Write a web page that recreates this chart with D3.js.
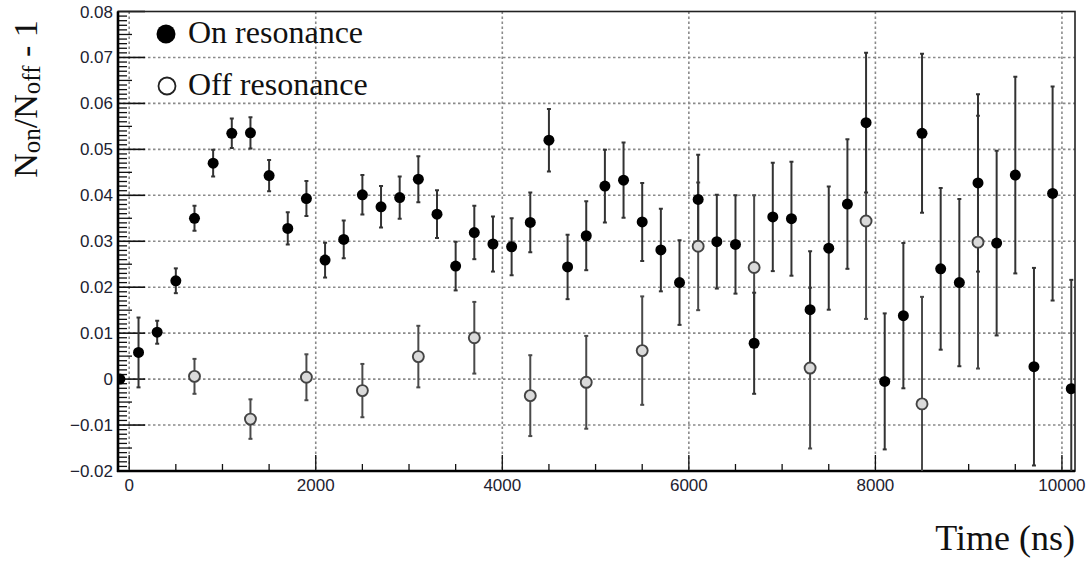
<!DOCTYPE html>
<html>
<head>
<meta charset="utf-8">
<script src="https://cdn.jsdelivr.net/npm/d3@7"></script>
<style>
  html, body { margin: 0; padding: 0; background: #fff; }
  svg { display: block; }
</style>
</head>
<body>
<svg id="chart" width="1091" height="563"></svg>
<script>
// ---------- data ----------
const onTime = [-100, 100, 300, 500, 700, 900, 1100, 1300, 1500, 1700, 1900, 2100, 2300, 2500, 2700, 2900,
  3100, 3300, 3500, 3700, 3900, 4100, 4300, 4500, 4700, 4900, 5100, 5300, 5500, 5700, 5900, 6100,
  6300, 6500, 6700, 6900, 7100, 7300, 7500, 7700, 7900, 8100, 8300, 8500, 8700, 8900, 9100, 9300,
  9500, 9700, 9900, 10100];
const onValue = [0, 0.0058, 0.0102, 0.0214, 0.0350, 0.0470, 0.0535, 0.0536, 0.0443, 0.0328, 0.0393, 0.0259, 0.0304, 0.0401, 0.0375, 0.0395,
  0.0435, 0.0359, 0.0246, 0.0319, 0.0294, 0.0288, 0.0341, 0.0520, 0.0244, 0.0312, 0.0420, 0.0433, 0.0342, 0.0281, 0.0210, 0.0391,
  0.0299, 0.0293, 0.0078, 0.0353, 0.0349, 0.0151, 0.0285, 0.0381, 0.0558, -0.0005, 0.0138, 0.0535, 0.0240, 0.0210, 0.0427, 0.0296,
  0.0444, 0.0027, 0.0404, -0.0021];
const onError = [0, 0.0076, 0.0025, 0.0027, 0.0027, 0.0029, 0.0032, 0.0034, 0.0034, 0.0035, 0.0038, 0.0038, 0.0041, 0.0043, 0.0045, 0.0046,
  0.0050, 0.0052, 0.0053, 0.0058, 0.0060, 0.0062, 0.0065, 0.0068, 0.0070, 0.0075, 0.0079, 0.0082, 0.0085, 0.0090, 0.0092, 0.0097,
  0.0102, 0.0107, 0.0110, 0.0118, 0.0124, 0.0127, 0.0134, 0.0141, 0.0152, 0.0148, 0.0158, 0.0173, 0.0176, 0.0182, 0.0193, 0.0201,
  0.0214, 0.0215, 0.0233, 0.0237];

const offTime = [700, 1300, 1900, 2500, 3100, 3700, 4300, 4900, 5500, 6100, 6700, 7300, 7900, 8500, 9100];
const offValue = [0.0006, -0.0087, 0.0004, -0.0025, 0.0049, 0.0090, -0.0036, -0.0007, 0.0062, 0.0289, 0.0243, 0.0024, 0.0344, -0.0054, 0.0298];
const offError = [0.0038, 0.0043, 0.0050, 0.0058, 0.0067, 0.0078, 0.0088, 0.0101, 0.0118, 0.0139, 0.0157, 0.0175, 0.0213, 0.0233, 0.0275];

const xTicks = [0, 2000, 4000, 6000, 8000, 10000];
const xTickLabels = ["0", "2000", "4000", "6000", "8000", "10000"];
const yTicks = [-0.02, -0.01, 0, 0.01, 0.02, 0.03, 0.04, 0.05, 0.06, 0.07, 0.08];
const yTickLabels = ["\u22120.02", "\u22120.01", "0", "0.01", "0.02", "0.03", "0.04", "0.05", "0.06", "0.07", "0.08"];
const legendLabels = ["On resonance", "Off resonance"];

// ---------- layout ----------
const L = 118, R = 1075, T = 11.5, B = 471;
const svg = d3.select("#chart");
const x = d3.scaleLinear().domain([-120, 10140]).range([L, R]);
const y = d3.scaleLinear().domain([-0.02, 0.08]).range([B, T]);

svg.append("defs").append("clipPath").attr("id", "plotclip")
  .append("rect").attr("x", L).attr("y", T).attr("width", R - L).attr("height", B - T);

// grid
const grid = svg.append("g").attr("stroke", "#8a8a8a").attr("stroke-width", 1.6)
  .attr("stroke-dasharray", "2.5,2.5").attr("fill", "none");
xTicks.forEach(t => {
  grid.append("line").attr("x1", x(t)).attr("x2", x(t)).attr("y1", T).attr("y2", B);
});
yTicks.forEach(t => {
  if (t > -0.02 && t < 0.08)
    grid.append("line").attr("x1", L).attr("x2", R).attr("y1", y(t)).attr("y2", y(t));
});

// y ticks (major, medium, minor)
const tickG = svg.append("g").attr("stroke", "#111").attr("stroke-width", 1.3);
const yMinor = d3.range(0, 101).map(i => -0.02 + i * 0.001);
yMinor.forEach((v, i) => {
  const len = (i % 10 === 0) ? 27 : (i % 5 === 0 ? 14 : 9);
  tickG.append("line").attr("x1", L).attr("x2", L + len).attr("y1", y(v)).attr("y2", y(v))
    .attr("stroke-width", i % 10 === 0 ? 1.6 : 1.3);
});
// x ticks
const xMinor = d3.range(0, 21).map(i => i * 500);
xMinor.forEach((v, i) => {
  const len = (i % 4 === 0) ? 16 : 7;
  tickG.append("line").attr("x1", x(v)).attr("x2", x(v)).attr("y1", B).attr("y2", B - len);
});

// frame
svg.append("rect").attr("x", L).attr("y", T).attr("width", R - L).attr("height", B - T)
  .attr("fill", "none").attr("stroke", "#222").attr("stroke-width", 1.6);
svg.append("line").attr("x1", L).attr("x2", L).attr("y1", T).attr("y2", B + 1)
  .attr("stroke", "#000").attr("stroke-width", 2.6);
svg.append("line").attr("x1", L - 1).attr("x2", R).attr("y1", B).attr("y2", B)
  .attr("stroke", "#000").attr("stroke-width", 2.6);

// tick labels
const lab = svg.append("g").attr("font-family", "'Liberation Sans', Arial, sans-serif")
  .attr("font-size", 17).attr("fill", "#222230");
yTicks.forEach((t, i) => {
  lab.append("text").attr("x", 113).attr("y", y(t) + 6).attr("text-anchor", "end").text(yTickLabels[i]);
});
xTicks.forEach((t, i) => {
  lab.append("text").attr("x", x(t)).attr("y", 491).attr("text-anchor", "middle").text(xTickLabels[i]);
});

// data
const onData = onTime.map((t, i) => ({ t, v: onValue[i], e: onError[i] }));
const offData = offTime.map((t, i) => ({ t, v: offValue[i], e: offError[i] }));

const plot = svg.append("g").attr("clip-path", "url(#plotclip)");
function errBars(data, color, width) {
  const g = plot.append("g").attr("stroke", color).attr("stroke-width", width);
  data.filter(d => d.e > 0).forEach(d => {
    const xx = x(d.t), y1 = y(d.v + d.e), y2 = y(d.v - d.e);
    g.append("line").attr("x1", xx).attr("x2", xx).attr("y1", y1).attr("y2", y2);
    g.append("line").attr("x1", xx - 2).attr("x2", xx + 2).attr("y1", y1).attr("y2", y1);
    g.append("line").attr("x1", xx - 2).attr("x2", xx + 2).attr("y1", y2).attr("y2", y2);
  });
}
errBars(offData, "#4a4a4a", 2);
errBars(onData, "#333", 2);

plot.append("g").selectAll("circle").data(offData).join("circle")
  .attr("cx", d => x(d.t)).attr("cy", d => y(d.v)).attr("r", 5.5)
  .attr("fill", "#dadada").attr("stroke", "#444").attr("stroke-width", 1.9);
plot.append("g").selectAll("circle").data(onData).join("circle")
  .attr("cx", d => x(d.t)).attr("cy", d => y(d.v)).attr("r", 5.5)
  .attr("fill", "#000");

// legend
const leg = svg.append("g").attr("font-family", "'Liberation Serif', 'Times New Roman', serif")
  .attr("font-size", 32).attr("fill", "#111");
leg.append("circle").attr("cx", 166).attr("cy", 34).attr("r", 9.5).attr("fill", "#000");
leg.append("text").attr("x", 188).attr("y", 43).text(legendLabels[0]);
leg.append("circle").attr("cx", 167).attr("cy", 86).attr("r", 8.5).attr("fill", "#fff")
  .attr("stroke", "#222").attr("stroke-width", 1.8);
leg.append("text").attr("x", 188).attr("y", 95).text(legendLabels[1]);

// axis titles
svg.append("text").attr("x", 1075).attr("y", 550).attr("text-anchor", "end")
  .attr("font-family", "'Liberation Serif', 'Times New Roman', serif").attr("font-size", 36)
  .attr("fill", "#111").text("Time (ns)");

const yt = svg.append("text").attr("transform", "translate(37,99) rotate(-90)")
  .attr("text-anchor", "middle")
  .attr("font-family", "'Liberation Serif', 'Times New Roman', serif").attr("font-size", 34)
  .attr("fill", "#111");
yt.append("tspan").text("N");
yt.append("tspan").attr("font-size", 25).attr("dy", 3).text("on");
yt.append("tspan").attr("dy", -3).text("/N");
yt.append("tspan").attr("font-size", 25).attr("dy", 3).text("off");
yt.append("tspan").attr("dy", -3).text(" - 1");
</script>
</body>
</html>
